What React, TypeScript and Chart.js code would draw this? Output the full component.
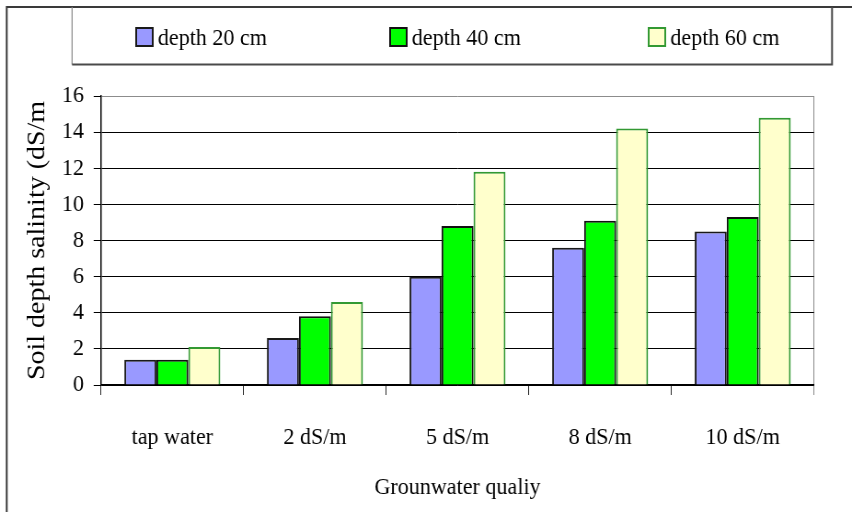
import { useEffect, useRef } from "react";
import { Chart, registerables } from "chart.js";

Chart.register(...registerables);

// Groundwater quality treatments and the soil salinity measured at each depth (dS/m)
const categories = ["tap water", "2 dS/m", "5 dS/m", "8 dS/m", "10 dS/m"];
const depth20 = [1.4, 2.6, 6.0, 7.6, 8.5];
const depth40 = [1.4, 3.8, 8.8, 9.1, 9.3];
const depth60 = [2.1, 4.6, 11.8, 14.2, 14.8];
const seriesLabels = ["depth 20 cm", "depth 40 cm", "depth 60 cm"];
const yTicks = [0, 2, 4, 6, 8, 10, 12, 14, 16];

const yTitle = "Soil depth salinity (dS/m";
const xTitle = "Grounwater qualiy";

// The drawing is laid out on a wider canvas and displayed narrower,
// which gives the condensed serif lettering.
const VIEW_W = 852;
const VIEW_H = 512;
const CANVAS_W = 926;
const SERIF = '"Liberation Serif"';

Chart.defaults.font.family = SERIF;
Chart.defaults.color = "#000";

const legendMarkerX = [148, 424, 705];

const frameLegendPlugin = {
  id: "frameLegend",
  afterDraw(chart: any) {
    const { ctx } = chart;
    ctx.save();
    // outer frame (top and left edges)
    ctx.strokeStyle = "#3a3a3a";
    ctx.lineWidth = 2;
    ctx.beginPath();
    ctx.moveTo(7.3, VIEW_H);
    ctx.lineTo(7.3, 7);
    ctx.lineTo(CANVAS_W, 7);
    ctx.stroke();

    // legend box
    const bx = 78.3;
    const by = 7;
    const bw = 826;
    const bh = 57.5;
    ctx.strokeStyle = "#8a8a8a";
    ctx.lineWidth = 1.2;
    ctx.beginPath();
    ctx.moveTo(bx, by + bh);
    ctx.lineTo(bx, by);
    ctx.stroke();
    ctx.strokeStyle = "#4a4a4a";
    ctx.lineWidth = 2;
    ctx.beginPath();
    ctx.moveTo(bx, by + bh);
    ctx.lineTo(bx + bw, by + bh);
    ctx.lineTo(bx + bw, by);
    ctx.stroke();

    // legend entries
    ctx.font = `24px ${SERIF}`;
    ctx.textBaseline = "alphabetic";
    ctx.textAlign = "left";
    chart.data.datasets.forEach((ds: any, i: number) => {
      const mx = legendMarkerX[i];
      const my = 28;
      ctx.fillStyle = ds.backgroundColor;
      ctx.fillRect(mx, my, 18, 18);
      ctx.strokeStyle = ds.borderColor;
      ctx.lineWidth = 2;
      ctx.strokeRect(mx, my, 18, 18);
      ctx.fillStyle = "#000";
      ctx.fillText(ds.label, mx + 23.5, 45);
    });
    ctx.restore();
  },
};

export default function App() {
  const canvasRef = useRef<HTMLCanvasElement | null>(null);

  useEffect(() => {
    document.body.style.margin = "0";
    const canvas = canvasRef.current;
    if (!canvas) return;

    const chart = new Chart(canvas, {
      type: "bar",
      data: {
        labels: categories,
        datasets: [
          {
            label: seriesLabels[0],
            data: depth20,
            backgroundColor: "#9999FF",
            borderColor: "#1a1a1a",
            borderWidth: 2,
          },
          {
            label: seriesLabels[1],
            data: depth40,
            backgroundColor: "#00FF00",
            borderColor: "#111111",
            borderWidth: 2,
          },
          {
            label: seriesLabels[2],
            data: depth60,
            backgroundColor: "#FFFFCC",
            borderColor: "#339933",
            borderWidth: 2,
          },
        ],
      },
      options: {
        responsive: false,
        animation: false,
        devicePixelRatio: 1,
        layout: { padding: { top: 96, right: 41.3, bottom: 0, left: 0 } },
        datasets: {
          bar: { categoryPercentage: 0.673, barPercentage: 1.0 },
        },
        plugins: {
          legend: { display: false },
          tooltip: { enabled: false },
          title: { display: false },
        },
        scales: {
          x: {
            type: "category",
            offset: true,
            grid: {
              offset: true,
              drawOnChartArea: true,
              drawTicks: true,
              tickLength: 10,
              lineWidth: 1,
              color: (c: any) => (c.type === "tick" ? "rgba(0,0,0,0)" : "#8c8c8c"),
              tickColor: (c: any) => (c.type === "tick" ? "#222" : "#8c8c8c"),
            },
            border: { display: true, color: "#000", width: 1.5 },
            ticks: {
              color: "#000",
              font: { family: SERIF, size: 24 },
              padding: 28,
              maxRotation: 0,
              autoSkip: false,
            },
            title: {
              display: true,
              text: xTitle,
              color: "#000",
              font: { family: SERIF, size: 24 },
              padding: { top: 0, bottom: 10 },
            },
            afterFit: (s: any) => {
              s.height = VIEW_H - 385;
            },
          },
          y: {
            min: 0,
            max: 16,
            afterBuildTicks: (s: any) => {
              s.ticks = yTicks.map((v) => ({ value: v }));
            },
            grid: {
              drawTicks: true,
              tickLength: 8,
              lineWidth: 1,
              color: (c: any) => (c.tick && c.tick.value === 16 ? "#8c8c8c" : "#000"),
              tickColor: "#000",
            },
            border: { display: true, color: "#000", width: 1.5 },
            ticks: {
              color: "#000",
              font: { family: SERIF, size: 24 },
              padding: 10.5,
            },
            title: {
              display: true,
              text: yTitle,
              color: "#000",
              font: { family: SERIF, size: 28 },
              padding: { top: 24, bottom: 0 },
            },
            afterFit: (s: any) => {
              s.width = 109.8;
            },
          },
        },
      },
      plugins: [frameLegendPlugin],
    });

    return () => chart.destroy();
  }, []);

  return (
    <div style={{ width: VIEW_W, height: VIEW_H, overflow: "hidden", background: "#fff" }}>
      <canvas
        ref={canvasRef}
        width={CANVAS_W}
        height={VIEW_H}
        style={{ width: `${VIEW_W}px`, height: `${VIEW_H}px`, display: "block" }}
      />
    </div>
  );
}
